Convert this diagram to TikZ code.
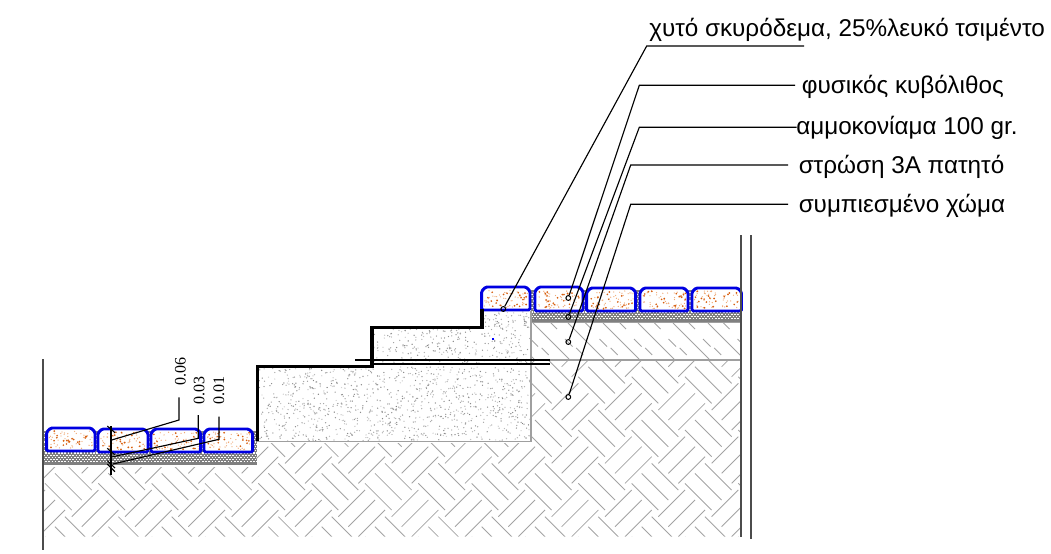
\documentclass[tikz,border=0pt]{standalone}
\usepackage{fontspec}
\setmainfont{Liberation Sans}
\newfontfamily\dimfont{Liberation Serif}
\definecolor{paverblue}{RGB}{0,0,225}
\definecolor{speckA}{RGB}{215,95,15}
\definecolor{speckB}{RGB}{240,170,120}
\tikzset{
    hatchline/.style={gray!72, line width=0.65pt},
    edgeline/.style={gray!75, line width=1pt},
    wallline/.style={black!70, line width=1.2pt},
    leader/.style={black, line width=0.85pt},
    thinline/.style={black, line width=0.85pt},
    stairline/.style={black, line width=2.8pt, line join=miter},
    paverline/.style={paverblue, line width=2.2pt, fill=white, rounded corners=1pt},
    pin/.style={circle, draw=black, line width=0.75pt, minimum size=3.6pt, inner sep=0pt},
    calltext/.style={anchor=base west, inner sep=0pt, font=\fontsize{18.2}{20}\selectfont},
    dimtext/.style={anchor=base west, inner sep=0pt, rotate=90, font=\dimfont\fontsize{12}{14}\selectfont},
}
\newcommand{\paver}[4]{
    \draw[paverline] (#1,#4) -- (#1,#3+4) -- (#1+4,#3) -- (#2-4,#3) -- (#2,#3+4) -- (#2,#4) -- cycle;
    \foreach \i in {1,...,45} {
        \pgfmathsetmacro{\sx}{#1+2.5+rnd*(#2-#1-5)}
        \pgfmathsetmacro{\sy}{#3+3+rnd*(#4-#3-5)}
        \fill[speckB] (\sx,\sy) circle (0.65);
    }
    \foreach \i in {1,...,20} {
        \pgfmathsetmacro{\sx}{#1+2.5+rnd*(#2-#1-5)}
        \pgfmathsetmacro{\sy}{#3+3+rnd*(#4-#3-5)}
        \fill[speckA] (\sx,\sy) circle (0.95);
    }
}
\newcommand{\stipple}[5]{
    \foreach \i in {1,...,#5} {
        \pgfmathsetmacro{\sx}{#1+rnd*#3}
        \pgfmathsetmacro{\sy}{#2+rnd*#4}
        \pgfmathsetmacro{\sg}{35+rnd*65}
        \fill[gray!\sg] (\sx,\sy) circle (0.7);
    }
}
\newcommand{\gravel}[4]{
    \fill[gray!100] (#1,#2) rectangle (#3,#4);
    \pgfmathtruncatemacro{\rows}{(#4-#2)/2.2-1}
    \foreach \n in {1,...,\rows} {
        \pgfmathsetmacro{\yy}{#2+1.1+2.2*\n-1.1}
        \pgfmathsetmacro{\ph}{mod(\n,2)*1.2}
        \draw[white, line width=0.85pt, dash pattern=on 1.2pt off 1.2pt, dash phase=\ph pt] (#1,\yy) -- (#3,\yy);
    }
}

\begin{document}
\begin{tikzpicture}[x=0.75pt,y=-0.75pt]
    \useasboundingbox (0,0) rectangle (1051,554);
    \pgfmathsetseed{4217}

    % mortar layers
    \gravel{42}{431}{257}{465}
    \gravel{531}{290}{741}{322}

    % ground
    \begin{scope}
        \clip (43,467) -- (256,467) -- (256,443) -- (531,443) -- (531,361) -- (741,361) -- (741,536.5) -- (43,536.5) -- cycle;
        \foreach \i in {-1,...,14} {
            \foreach \j in {-1,...,4} {
                \foreach \m in {-1,0,1} {
                    \draw[hatchline] ({55+53.33*\i+10*\m},{366.7+53.33*\j-10*\m}) -- ++(26.7,26.7);
                    \draw[hatchline] ({81.7+53.33*\i+10*\m},{366.7+53.33*\j+10*\m}) -- ++(26.7,-26.7);
                }
            }
        }
    \end{scope}

    % compacted layer
    \begin{scope}
        \clip (532,323) rectangle (741,360);
        \foreach \k in {-1,...,6} {
            \draw[hatchline] ({533+35*\k},323) -- ++(36,36);
            \draw[hatchline] ({550+34.5*\k},322) -- ++(7,7);
            \draw[hatchline] ({565+34.5*\k},339) -- ++(7.5,7.5);
            \draw[hatchline] ({541.7+34.5*\k},348) -- ++(7,7);
        }
    \end{scope}

    % concrete
    \stipple{259}{367}{271}{74}{1000}
    \stipple{373}{329}{157}{35}{260}
    \stipple{484}{312}{46}{17}{60}
    \fill[blue] (492,338.2) rectangle (494,340);

    \draw[edgeline] (257,441.5) -- (531,441.5) -- (531,311);
    \draw[edgeline] (531,360) -- (741,360);
    \draw[edgeline] (531,322.5) -- (741,322.5);

    % pavers
    \paver{46.7}{95}{428}{451}
    \paver{98}{148}{429}{452}
    \paver{151}{200.7}{429}{452}
    \paver{204}{252.7}{429}{452}
    \paver{481.7}{530}{287}{310}
    \paver{535}{583}{287}{311}
    \paver{586.7}{635.7}{288}{311}
    \paver{640}{688}{288}{311}
    \paver{692}{741.5}{288}{311}

    % walls
    \draw[wallline] (42.7,359) -- (42.7,550);
    \draw[wallline] (741,235) -- (741,537);
    \draw[wallline] (750.7,235) -- (750.7,539);

    % steps
    \draw[stairline] (257.5,441) -- (257.5,366.5) -- (371.7,366.5) -- (371.7,327.5) -- (482.3,327.5) -- (482.3,309);
    \draw[thinline] (355,360) -- (550,360);
    \draw[thinline] (372,364) -- (550,364);

    % callouts
    \node[pin] (pinA) at (503.3,309) {};
    \node[pin] (pinB) at (568.3,298) {};
    \node[pin] (pinC) at (568.3,317) {};
    \node[pin] (pinD) at (568.3,342) {};
    \node[pin] (pinE) at (568.3,397) {};
    \coordinate (bendA) at (646.7,46);
    \coordinate (bendB) at (639.3,85.3);
    \coordinate (bendC) at (639.3,127.3);
    \coordinate (bendD) at (630.7,165);
    \coordinate (bendE) at (630.7,204.3);
    \coordinate (endA) at (804,46);
    \coordinate (endB) at (795,85.3);
    \coordinate (endC) at (796.7,127.3);
    \coordinate (endD) at (788,165);
    \coordinate (endE) at (788,204.3);
    \draw[leader] (pinA) -- (bendA) -- (endA);
    \draw[leader] (pinB) -- (bendB) -- (endB);
    \draw[leader] (pinC) -- (bendC) -- (endC);
    \draw[leader] (pinD) -- (bendD) -- (endD);
    \draw[leader] (pinE) -- (bendE) -- (endE);

    \node[calltext] (textA) at (649,36) {χυτό σκυρόδεμα, 25\%λευκό τσιμέντο};
    \node[calltext] (textB) at (801.7,93) {φυσικός κυβόλιθος};
    \node[calltext] (textC) at (796,134) {αμμοκονίαμα 100 gr.};
    \node[calltext] (textD) at (798.5,173) {στρώση 3Α πατητό};
    \node[calltext] (textE) at (798.5,212.7) {συμπιεσμένο χώμα};

    % thickness dimensions
    \coordinate (dimtop) at (111,426);
    \coordinate (dimbot) at (111,475);
    \draw[thinline] (dimtop) -- (dimbot);
    \draw[thinline] (107.3,426) -- (115,432.7);
    \draw[thinline] (107.3,448.3) -- (115,455);
    \draw[thinline] (107.3,460.7) -- (115,468);
    \draw[thinline] (107.3,464) -- (115,471.7);

    \coordinate (dimA) at (111.7,440);
    \coordinate (dimB) at (111.7,457);
    \coordinate (dimC) at (113,464);
    \node[dimtext] (valA) at (185.7,386) {0.06};
    \node[dimtext] (valB) at (204.3,405) {0.03};
    \node[dimtext] (valC) at (224,405) {0.01};
    \draw[thinline] (dimA) -- (179,420) -- (179,397.3);
    \draw[thinline] (dimB) -- (198.3,438.3) -- (198.3,415);
    \draw[thinline] (dimC) -- (219,439.3) -- (219,416.7);
\end{tikzpicture}
\end{document}
